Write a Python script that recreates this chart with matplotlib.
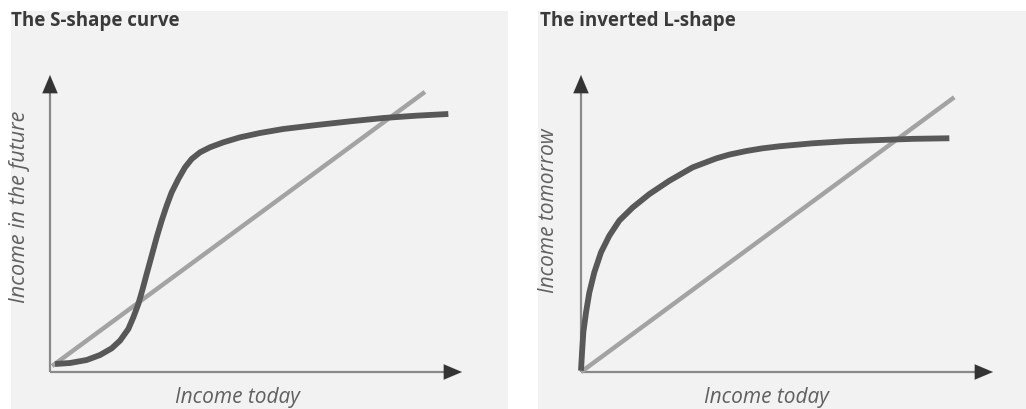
import matplotlib
matplotlib.use("Agg")
import matplotlib.pyplot as plt
from matplotlib.patches import Rectangle

W, H = 1026, 410

titles = ["The S-shape curve", "The inverted L-shape"]
xlabels = ["Income today", "Income today"]
ylabels = ["Income in the future", "Income tomorrow"]

# S-shape curve (income today -> income in the future), 0..100 scale
s_x = [1.21, 4.85, 8.90, 12.14, 14.97, 16.99, 19.01, 20.23, 21.44, 22.49, 23.46, 24.68,
       25.89, 27.10, 28.32, 29.53, 31.15, 32.77, 34.39, 36.41, 38.83, 42.07, 46.12,
       50.97, 56.63, 64.72, 72.82, 80.91, 89.00, 96.68]
s_y = [2.69, 3.03, 4.04, 5.72, 7.97, 10.55, 14.48, 18.41, 22.90, 27.95, 33.00, 39.17,
       45.34, 50.95, 56.01, 60.49, 64.98, 68.91, 71.72, 73.96, 75.65, 77.33, 79.01,
       80.47, 81.82, 83.16, 84.40, 85.52, 86.31, 86.87]
s_diag_x = [0.5, 91.0]
s_diag_y = [2.0, 94.3]

# Inverted L-shape curve
l_x = [0.0, 0.25, 0.57, 1.22, 2.03, 3.24, 4.86, 6.88, 9.31, 12.55, 16.59, 21.45, 27.1,
       32.8, 36.0, 40.1, 44.0, 48.2, 56.2, 64.3, 72.4, 80.5, 89.4]
l_y = [0.45, 6.6, 13.4, 20.1, 26.8, 33.6, 40.3, 45.9, 51.0, 55.4, 59.9, 64.4, 68.9,
       71.9, 73.2, 74.4, 75.3, 76.0, 77.0, 77.7, 78.1, 78.5, 78.7]
l_diag_x = [0.0, 90.6]
l_diag_y = [0.0, 92.5]

curves = [(s_x, s_y, s_diag_x, s_diag_y), (l_x, l_y, l_diag_x, l_diag_y)]

plt.rcParams['font.family'] = ['Open Sans', 'DejaVu Sans']

fig = plt.figure(figsize=(W / 100, H / 100), dpi=100)
fig.patch.set_facecolor('white')

def fx(px):
    return px / W

def fy(py):
    return 1 - py / H

# panel backgrounds (pixel rects)
panels = [(11, 12, 508, 410), (538, 12, 1026, 410)]
for (x0, y0, x1, y1) in panels:
    fig.patches.append(Rectangle((fx(x0), fy(y1)), fx(x1) - fx(x0), fy(y0) - fy(y1),
                                 transform=fig.transFigure, facecolor='#f2f2f2',
                                 edgecolor='none', zorder=-5))

origins = [(50, 373), (581, 373)]
xlen, ylen = 412, 297
title_pos = [(11, 21), (540, 21)]
ylab_pos = [(20, 207), (549, 211)]
xlab_pos = [(237, 398), (766, 398)]
ylab_size = [15.5, 15.0]

for i in range(2):
    ox, oy = origins[i]
    ax = fig.add_axes([fx(ox), fy(oy), xlen / W, ylen / H])
    ax.set_xlim(0, 100)
    ax.set_ylim(0, 100)
    ax.axis('off')
    ax.patch.set_alpha(0)
    ax.set_zorder(2)
    cx, cy, dx, dy = curves[i]
    # axes lines with arrows
    ax.plot([0, 96], [0, 0], color='#8a8a8a', lw=1.6, solid_capstyle='butt', clip_on=False)
    ax.plot([0, 0], [0, 96], color='#8a8a8a', lw=1.6, solid_capstyle='butt', clip_on=False)
    ax.annotate('', xy=(100, 0), xytext=(95, 0),
                arrowprops=dict(arrowstyle='-|>,head_length=1.3,head_width=0.55',
                                color='#333333', lw=0.1, shrinkA=0, shrinkB=0),
                annotation_clip=False)
    ax.annotate('', xy=(0, 100), xytext=(0, 93),
                arrowprops=dict(arrowstyle='-|>,head_length=1.3,head_width=0.55',
                                color='#333333', lw=0.1, shrinkA=0, shrinkB=0),
                annotation_clip=False)
    ax.plot(dx, dy, color='#a3a3a3', lw=3.2, solid_capstyle='butt', clip_on=False, zorder=3)
    ax.plot(cx, cy, color='#585858', lw=4.2, solid_capstyle='butt', solid_joinstyle='round',
            clip_on=False, zorder=4)

    tx, ty = title_pos[i]
    fig.text(fx(tx), fy(ty), titles[i], fontsize=13.5, fontweight='bold', color='#3a3a3a',
             ha='left', va='center', family=['Open Sans', 'DejaVu Sans'])
    yx, yy = ylab_pos[i]
    fig.text(fx(yx), fy(yy), ylabels[i], fontsize=ylab_size[i], style='italic', color='#606060',
             rotation=90, ha='center', va='center')
    xx, xy = xlab_pos[i]
    fig.text(fx(xx), fy(xy), xlabels[i], fontsize=15, style='italic', color='#606060',
             ha='center', va='center')

fig.savefig('out.png', dpi=100, facecolor='white')
